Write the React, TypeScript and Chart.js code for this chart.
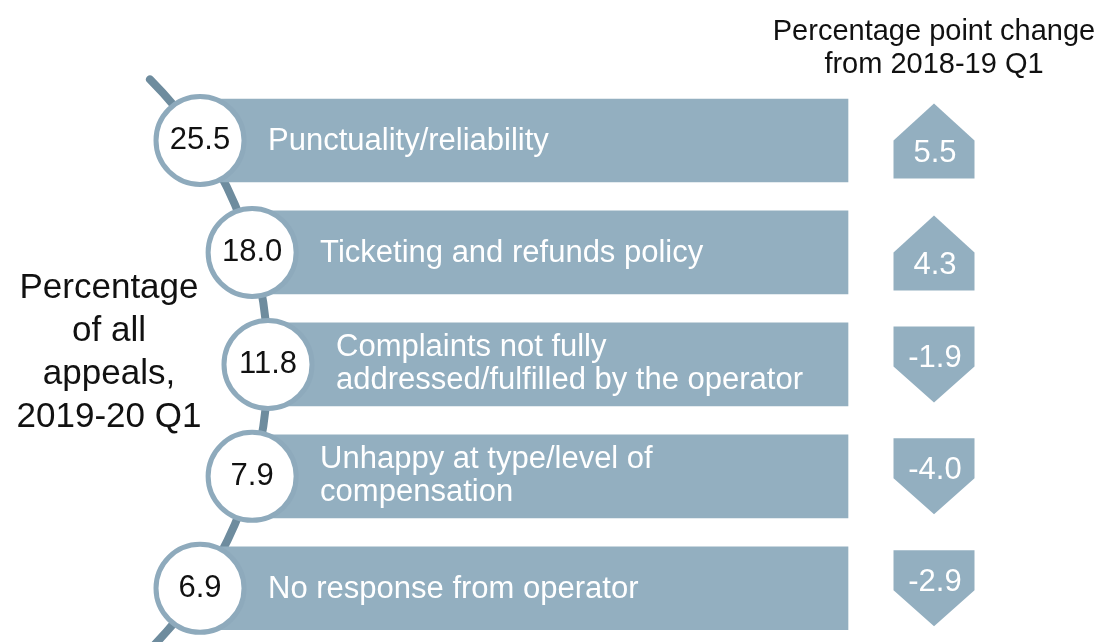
import React, { useEffect, useRef } from "react";
import { Chart, registerables } from "chart.js";

Chart.register(...registerables);

// ---- data ----
const categoryLines: string[][] = [
  ["Punctuality/reliability"],
  ["Ticketing and refunds policy"],
  ["Complaints not fully", "addressed/fulfilled by the operator"],
  ["Unhappy at type/level of", "compensation"],
  ["No response from operator"],
];
const shareOfAppeals = [25.5, 18.0, 11.8, 7.9, 6.9];
const changeSince = [5.5, 4.3, -1.9, -4.0, -2.9];
const leftTitleLines = ["Percentage", "of all", "appeals,", "2019-20 Q1"];
const rightTitleLines = ["Percentage point change", "from 2018-19 Q1"];

// ---- layout / style ----
const W = 1098;
const H = 642;
const FONT = '"Liberation Sans", Arial, sans-serif';
const BAR_COLOR = "#93afc0";
const LINE_COLOR = "#6e8c9e";
const RING_COLOR = "#8eaabc";
const ROW_PX = 112;
const ARC_R = 403;
const ARC_CX = -135;
const BAR_END = 848;
const ARROW_X = 934;
const ARROW_W = 81;

const arcX = (i: number) =>
  ARC_CX + Math.sqrt(ARC_R * ARC_R - Math.pow((i - 2) * ROW_PX, 2));

const decorPlugin = {
  id: "decor",
  beforeDatasetsDraw(chart: any) {
    const { ctx, scales } = chart;
    const x = scales.x;
    const y = scales.y;
    const cx = x.getPixelForValue(ARC_CX);
    const cy = y.getPixelForValue(2);
    const r = x.getPixelForValue(ARC_CX + ARC_R) - cx;
    ctx.save();
    ctx.strokeStyle = LINE_COLOR;
    ctx.lineWidth = 8;
    ctx.lineCap = "round";
    ctx.beginPath();
    ctx.arc(cx, cy, r, -Math.PI / 4, Math.PI / 4);
    ctx.stroke();
    ctx.restore();
  },
  afterDatasetsDraw(chart: any) {
    const { ctx, scales } = chart;
    const x = scales.x;
    const y = scales.y;
    ctx.save();

    categoryLines.forEach((lines, i) => {
      const cy = y.getPixelForValue(i);
      const cxp = x.getPixelForValue(arcX(i));

      // value in circle
      ctx.fillStyle = "#111111";
      ctx.font = `31px ${FONT}`;
      ctx.textAlign = "center";
      ctx.textBaseline = "alphabetic";
      ctx.fillText(shareOfAppeals[i].toFixed(1), cxp, cy + 9);

      // category label
      ctx.fillStyle = "#ffffff";
      ctx.textAlign = "left";
      ctx.font = `31px ${FONT}`;
      if (lines.length === 1) {
        ctx.fillText(lines[0], cxp + 68, cy + 10);
      } else {
        ctx.fillText(lines[0], cxp + 68, cy - 8);
        ctx.fillText(lines[1], cxp + 68, cy + 25);
      }

      // change arrow
      const v = changeSince[i];
      const ax = x.getPixelForValue(ARROW_X);
      const l = ax - ARROW_W / 2;
      const rgt = ax + ARROW_W / 2;
      ctx.fillStyle = BAR_COLOR;
      ctx.beginPath();
      if (v >= 0) {
        ctx.moveTo(ax, cy - 37);
        ctx.lineTo(rgt, cy);
        ctx.lineTo(rgt, cy + 38);
        ctx.lineTo(l, cy + 38);
        ctx.lineTo(l, cy);
      } else {
        ctx.moveTo(l, cy - 38);
        ctx.lineTo(rgt, cy - 38);
        ctx.lineTo(rgt, cy + 2);
        ctx.lineTo(ax, cy + 38);
        ctx.lineTo(l, cy + 2);
      }
      ctx.closePath();
      ctx.fill();
      ctx.fillStyle = "#ffffff";
      ctx.textAlign = "center";
      ctx.font = `31px ${FONT}`;
      ctx.fillText(v.toFixed(1), ax + 1, v >= 0 ? cy + 22 : cy + 3);
    });

    // titles
    ctx.fillStyle = "#111111";
    ctx.textAlign = "center";
    ctx.font = `35px ${FONT}`;
    leftTitleLines.forEach((t, k) => ctx.fillText(t, 109, 298 + k * 43));
    ctx.font = `29px ${FONT}`;
    rightTitleLines.forEach((t, k) => ctx.fillText(t, x.getPixelForValue(ARROW_X), 40 + k * 33));

    ctx.restore();
  },
};

export default function App() {
  const ref = useRef<HTMLCanvasElement | null>(null);
  useEffect(() => {
    if (!ref.current) return;
    const chart = new Chart(ref.current, {
      type: "bar",
      data: {
        datasets: [
          {
            type: "scatter",
            data: shareOfAppeals.map((_, i) => ({ x: arcX(i), y: i })),
            pointRadius: 44,
            pointBorderWidth: 5,
            pointBackgroundColor: "#ffffff",
            pointBorderColor: RING_COLOR,
            showLine: false,
            order: 0,
            clip: false,
          } as any,
          {
            type: "bar",
            indexAxis: "y",
            data: categoryLines.map((_, i) => ({ x: [arcX(i), BAR_END], y: i })),
            backgroundColor: BAR_COLOR,
            borderWidth: 0,
            barThickness: 83,
            order: 1,
          } as any,
        ],
      },
      options: {
        indexAxis: "y",
        responsive: false,
        maintainAspectRatio: false,
        animation: false,
        events: [],
        layout: { padding: 0, autoPadding: false },
        plugins: { legend: { display: false }, tooltip: { enabled: false } },
        scales: {
          x: { type: "linear", display: false, min: 0, max: W, offset: false, grace: 0 },
          y: { type: "linear", display: false, min: -1.255, max: 4.48, reverse: true, offset: false, grace: 0 },
        },
      },
      plugins: [decorPlugin],
    });
    return () => chart.destroy();
  }, []);
  return (
    <div style={{ position: "absolute", left: 0, top: 0, width: W, height: H, background: "#fff" }}>
      <canvas ref={ref} width={W} height={H} style={{ width: W, height: H, display: "block" }} />
    </div>
  );
}
